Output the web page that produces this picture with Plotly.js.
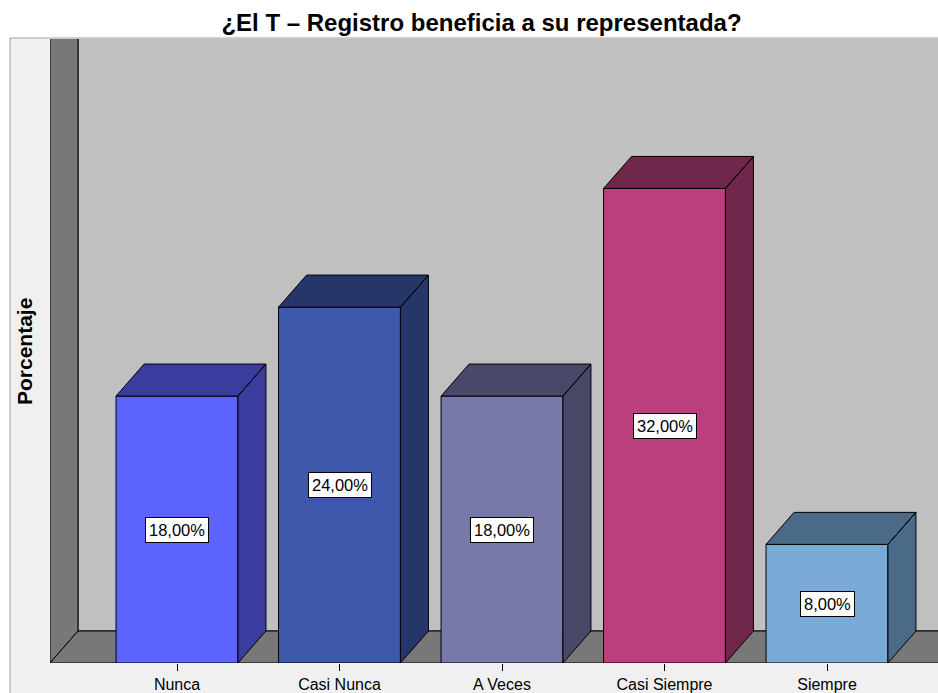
<!DOCTYPE html>
<html>
<head>
<meta charset="utf-8">
<script src="https://cdn.plot.ly/plotly-3.0.1.min.js"></script>
<style>
html,body{margin:0;padding:0;background:#fff;}
#chart{width:938px;height:693px;}
</style>
</head>
<body>
<div id="chart"></div>
<script>
// ---- data ----
const categories = ["Nunca", "Casi Nunca", "A Veces", "Casi Siempre", "Siempre"];
const percentages = [18, 24, 18, 32, 8];
const frontColors = ["#5c63fe", "#3e58ac", "#7879a9", "#bb3f7d", "#79a9d7"];
const shadeColors = ["#3a3c9e", "#263668", "#484868", "#71264c", "#4a6a87"];
const chartTitle = "¿El T – Registro beneficia a su representada?";
const yTitle = "Porcentaje";

// ---- geometry (pixel scales -> axis ranges) ----
const L = 50, T = 39, W = 888, H = 624;
const catPx = 162.5, firstCenterPx = 177, unitPx = 14.83;
const xmin = (L - firstCenterPx) / catPx;
const xmax = (L + W - firstCenterPx) / catPx;
const ymax = H / unitPx;
const dx = 28 / catPx, dy = 32 / unitPx;
const barW = 0.75;

const idx = categories.map((c, i) => i);
const fmt = v => v.toFixed(2).replace('.', ',') + '%';

const traces = [];
traces.push({
  type: 'bar', x: idx, y: percentages, width: barW,
  marker: {color: frontColors, line: {color: '#000', width: 1}},
  hoverinfo: 'skip'
});
idx.forEach(i => {
  const v = percentages[i];
  const x0 = i - barW / 2, x1 = i + barW / 2;
  traces.push({
    type: 'scatter', mode: 'lines', fill: 'toself',
    fillcolor: shadeColors[i], line: {color: '#000', width: 1},
    x: [x0, x0 + dx, x1 + dx, x1, x0, null, x1, x1 + dx, x1 + dx, x1, x1],
    y: [v, v + dy, v + dy, v, v, null, v, v + dy, dy, 0, v],
    hoverinfo: 'skip', showlegend: false
  });
});

const P = (pts) => 'M ' + pts.map(p => p[0] + ',' + p[1]).join(' L ') + ' Z';
const pxX = p => (p - L) / W, pxY = p => 1 - (p - T) / H;

const shapes = [
  {type: 'rect', xref: 'paper', yref: 'paper', layer: 'below',
   x0: pxX(10), x1: pxX(945), y0: pxY(38), y1: pxY(700),
   fillcolor: '#f0f0f0', line: {color: '#a0a0a0', width: 1}},
  {type: 'path', xref: 'x', yref: 'y', layer: 'below',
   path: P([[xmin + dx, dy], [xmin + dx, ymax + 1], [xmax + 1, ymax + 1], [xmax + 1, dy]]),
   fillcolor: '#c0c0c0', line: {color: '#000', width: 1}},
  {type: 'path', xref: 'x', yref: 'y', layer: 'below',
   path: P([[xmin, 0], [xmin, ymax + 1], [xmin + dx, ymax + 1], [xmin + dx, dy]]),
   fillcolor: '#787878', line: {color: '#000', width: 1}},
  {type: 'path', xref: 'x', yref: 'y', layer: 'below',
   path: P([[xmin, 0], [xmin + dx, dy], [xmax + 1, dy], [xmax + 1, 0]]),
   fillcolor: '#787878', line: {color: '#000', width: 1}}
];

const annotations = idx.map(i => ({
  x: i, y: percentages[i] / 2, xref: 'x', yref: 'y',
  text: fmt(percentages[i]), showarrow: false,
  font: {family: 'Liberation Sans, Arial, sans-serif', size: 16.5, color: '#000'},
  bgcolor: '#fff', bordercolor: '#000', borderwidth: 1, borderpad: 3
}));
annotations.push({
  xref: 'paper', yref: 'paper', x: pxX(24), y: pxY(352),
  text: '<b>' + yTitle + '</b>', textangle: -90, showarrow: false,
  xanchor: 'center', yanchor: 'middle',
  font: {family: 'Liberation Sans, Arial, sans-serif', size: 21, color: '#000'}
});

const layout = {
  width: 938, height: 693,
  margin: {l: L, r: 938 - L - W, t: T, b: 693 - T - H},
  paper_bgcolor: '#fff', plot_bgcolor: 'rgba(0,0,0,0)',
  showlegend: false,
  title: {text: '<b>' + chartTitle + '</b>', xref: 'container', yref: 'container',
          x: 481.5 / 938, y: 1 - 23 / 693, xanchor: 'center', yanchor: 'middle',
          font: {family: 'Liberation Sans, Arial, sans-serif', size: 24, color: '#000'}},
  xaxis: {range: [xmin, xmax], tickvals: idx, ticktext: categories,
          ticks: 'outside', ticklen: 7, tickwidth: 1, tickcolor: '#000',
          showgrid: false, zeroline: false, showline: false, fixedrange: true,
          tickfont: {family: 'Liberation Sans, Arial, sans-serif', size: 16, color: '#000'}},
  yaxis: {range: [0, ymax], visible: false, fixedrange: true},
  shapes: shapes, annotations: annotations
};

Plotly.newPlot('chart', traces, layout, {displayModeBar: false, staticPlot: true});
</script>
</body>
</html>
